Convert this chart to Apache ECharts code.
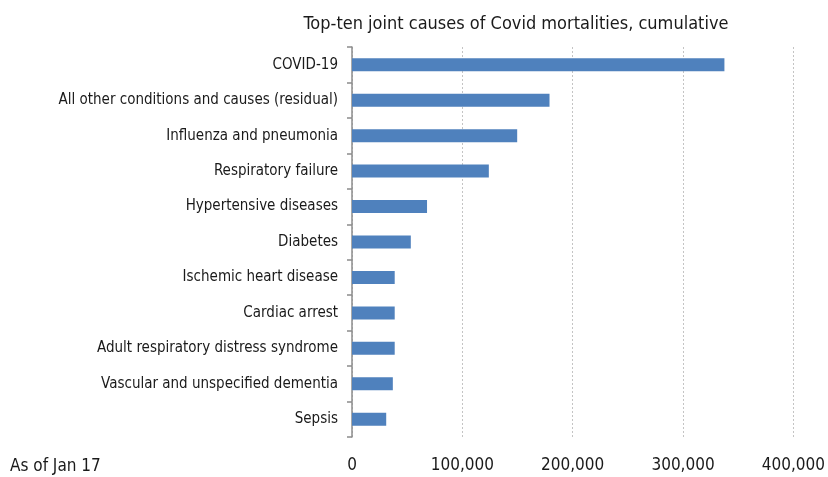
<!DOCTYPE html>
<html>
<head>
<meta charset="utf-8">
<script src="https://cdn.jsdelivr.net/npm/echarts@6/dist/echarts.min.js"></script>
<style>
  html, body { margin: 0; padding: 0; background: #fff; }
  #chart { width: 828px; height: 477px; }
</style>
</head>
<body>
<div id="chart"></div>
<script>
// categories from top to bottom
const causes = [
  'COVID-19',
  'All other conditions and causes (residual)',
  'Influenza and pneumonia',
  'Respiratory failure',
  'Hypertensive diseases',
  'Diabetes',
  'Ischemic heart disease',
  'Cardiac arrest',
  'Adult respiratory distress syndrome',
  'Vascular and unspecified dementia',
  'Sepsis'
]
const deaths = [337500, 179000, 149700, 124000, 68000, 53300, 38700, 38700, 38700, 37000, 31000]
const xTicks = [0, 100000, 200000, 300000, 400000]

const font = '"Liberation Sans Narrow", "DejaVu Sans Condensed", "Roboto", sans-serif'

const chart = echarts.init(document.getElementById('chart'))
chart.setOption({
  animation: false,
  title: {
    text: 'Top-ten joint causes of Covid mortalities, cumulative',
    left: 511,
    top: 10,
    textAlign: 'center',
    textStyle: { fontFamily: font, fontSize: 18, fontWeight: 'normal', color: '#1a1a1a' }
  },
  graphic: [{
    type: 'text',
    left: 10,
    top: 458,
    style: { text: 'As of Jan 17', font: '17px ' + font, fill: '#1a1a1a' }
  }],
  grid: { left: 352, right: 28, top: 47, bottom: 40 },
  xAxis: {
    type: 'value',
    min: xTicks[0],
    max: xTicks[xTicks.length - 1],
    interval: 100000,
    axisLine: { show: false },
    axisTick: { show: false },
    axisLabel: {
      fontFamily: font, fontSize: 17, color: '#1a1a1a', margin: 20,
      formatter: v => v.toLocaleString('en-US')
    },
    splitLine: { show: true, lineStyle: { color: '#c4c4c4', type: [2, 2], width: 1 } }
  },
  yAxis: {
    type: 'category',
    data: causes,
    inverse: true,
    axisLine: { show: true, lineStyle: { color: '#8c8c8c', width: 1.5 } },
    axisTick: { show: true, length: 5, inside: false, lineStyle: { color: '#8c8c8c', width: 1.5 } },
    axisLabel: { fontFamily: font, fontSize: 15, color: '#1a1a1a', margin: 14 },
    splitLine: { show: false }
  },
  series: [{
    type: 'bar',
    data: deaths,
    barWidth: 13,
    itemStyle: { color: '#4F81BD' }
  }]
})
</script>
</body>
</html>
